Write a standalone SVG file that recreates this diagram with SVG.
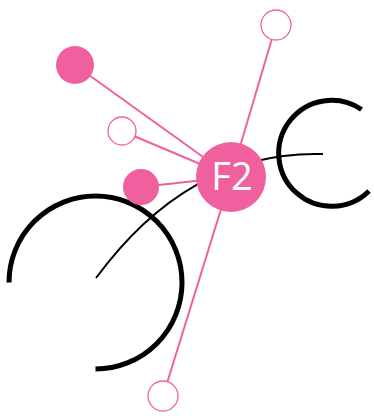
<svg xmlns="http://www.w3.org/2000/svg" width="374" height="416" viewBox="0 0 374 416">
<style>
.arc{fill:none;stroke:#000;stroke-width:5}
.link{fill:none;stroke:#000;stroke-width:2}
.edge{stroke:#f0609e;stroke-width:2;fill:none}
.filled{fill:#f0609e}
.hollow{fill:#fff;stroke:#f0609e;stroke-width:1.3}
.label{font-family:"Open Sans","Noto Sans",sans-serif;font-size:38px;fill:#fff;text-anchor:middle}
</style>
<rect width="374" height="416" fill="#fff"/>
<g id="arcs">
<path class="arc" d="M9,282.5 A86.5,86.5 0 1 1 95.5,369"/>
<path class="arc" d="M361.5,109.5 A53,53 0 1 0 369,191" stroke-width="4.5"/>
</g>
<g id="connectors">
<path class="link" d="M96,278 Q190,150 323,154"/>
<line class="edge" x1="231" y1="177" x2="75" y2="65"/>
<line class="edge" x1="231" y1="177" x2="122" y2="131"/>
<line class="edge" x1="231" y1="177" x2="141" y2="187"/>
<line class="edge" x1="231" y1="177" x2="276" y2="25"/>
<line class="edge" x1="231" y1="177" x2="163" y2="396"/>
</g>
<g id="n1"><circle class="filled" cx="75" cy="65" r="19"/></g>
<g id="n2"><circle class="hollow" cx="122" cy="131" r="14"/></g>
<g id="n3"><circle class="filled" cx="141" cy="187" r="18"/></g>
<g id="n4"><circle class="hollow" cx="276" cy="25" r="15"/></g>
<g id="n5"><circle class="hollow" cx="163" cy="396" r="15"/></g>
<g id="F2"><circle class="filled" cx="231" cy="177" r="35"/><text class="label" x="232" y="190">F2</text></g>
</svg>
